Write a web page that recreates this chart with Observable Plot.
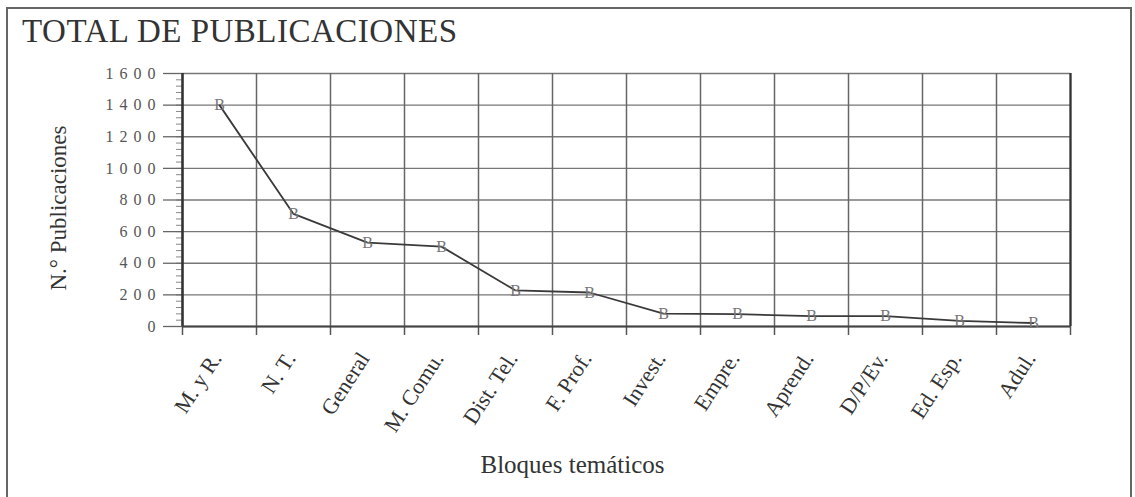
<!DOCTYPE html>
<html>
<head>
<meta charset="utf-8">
<script src="https://cdn.jsdelivr.net/npm/d3@7"></script>
<script src="https://cdn.jsdelivr.net/npm/@observablehq/plot@0.6"></script>
<style>
  html, body { margin: 0; padding: 0; background: #fff; overflow: hidden; }
  body { width: 1135px; height: 497px; position: relative; font-family: "Liberation Serif", "DejaVu Serif", serif; }
  #frame { position: absolute; left: 6px; top: 7px; width: 1126px; height: 520px; border: 2px solid #666; border-bottom: none; box-sizing: border-box; }
  #title { position: absolute; left: 22px; top: 13px; font-size: 33px; color: #333; letter-spacing: 0.5px; white-space: nowrap; }
  #chart { position: absolute; left: 0; top: 60px; }
  #chart svg { font-family: "Liberation Serif", "DejaVu Serif", serif; }
  .ytick text { letter-spacing: 6px; }
</style>
</head>
<body>
<div id="frame"></div>
<div id="title">TOTAL DE PUBLICACIONES</div>
<div id="chart"></div>
<script>
// Data
const categories = ["M. y R.", "N. T.", "General", "M. Comu.", "Dist. Tel.", "F. Prof.", "Invest.", "Empre.", "Aprend.", "D/P/Ev.", "Ed. Esp.", "Adul."];
const publicaciones = [1400, 712, 530, 505, 228, 215, 82, 78, 66, 65, 35, 22];
const yTicks = [0, 200, 400, 600, 800, 1000, 1200, 1400, 1600];
const yMinorTicks = d3.range(0, 1601, 40);
const xLabel = "Bloques temáticos";
const yLabel = "N.° Publicaciones";

const data = categories.map((c, i) => ({cat: c, idx: i + 0.5, value: publicaciones[i]}));
const bounds = d3.range(categories.length + 1);

const chart = Plot.plot({
  width: 1135,
  height: 437,
  marginLeft: 182,
  marginRight: 65,
  marginTop: 13,
  marginBottom: 171,
  style: {fontFamily: '"Liberation Serif", "DejaVu Serif", serif', color: "#333", background: "transparent"},
  x: {type: "linear", domain: [0, categories.length], axis: null, label: null},
  y: {domain: [0, 1600], axis: null, label: null},
  marks: [
    // horizontal grid
    Plot.ruleY(yTicks, {stroke: "#777", strokeWidth: 1.3}),
    // vertical grid at category boundaries
    Plot.ruleX(bounds, {stroke: "#666", strokeWidth: 1.5}),
    // x ticks below axis
    Plot.axisX(bounds, {tickSize: 9, tickFormat: () => "", stroke: "#555", strokeWidth: 1.5, label: null}),
    // minor y ticks
    Plot.axisY(yMinorTicks, {tickSize: 6, tickFormat: () => "", stroke: "#888", strokeWidth: 1, label: null}),
    // major y ticks with labels
    Plot.axisY(yTicks, {tickSize: 19, tickPadding: 2, fontSize: 16, stroke: "#666", strokeWidth: 1.3, fill: "#555", className: "ytick", tickFormat: d => String(d), label: null}),
    // axis frame lines
    Plot.ruleX([0], {stroke: "#333", strokeWidth: 2.5}),
    Plot.ruleX([categories.length], {stroke: "#333", strokeWidth: 2.2}),
    Plot.ruleY([0], {stroke: "#444", strokeWidth: 2}),
    // the series line
    Plot.line(data, {x: "idx", y: "value", stroke: "#3a3a3a", strokeWidth: 1.8}),
    // markers
    Plot.text(data, {x: "idx", y: "value", text: () => "B", fontSize: 16, fill: "#777"}),
    // category labels
    Plot.text(data, {x: "idx", y: () => 0, text: "cat", rotate: -57, textAnchor: "end", lineAnchor: "middle", dy: 28, dx: -3, fontSize: 22, fill: "#333"}),
    // axis titles
    Plot.text([xLabel], {frameAnchor: "bottom", textAnchor: "middle", dy: 146, dx: -54, fontSize: 25, fill: "#333"}),
    Plot.text([yLabel], {frameAnchor: "left", textAnchor: "middle", rotate: -90, dx: -124, dy: 8, fontSize: 23, fill: "#333"})
  ]
});
document.getElementById("chart").appendChild(chart);
</script>
</body>
</html>
